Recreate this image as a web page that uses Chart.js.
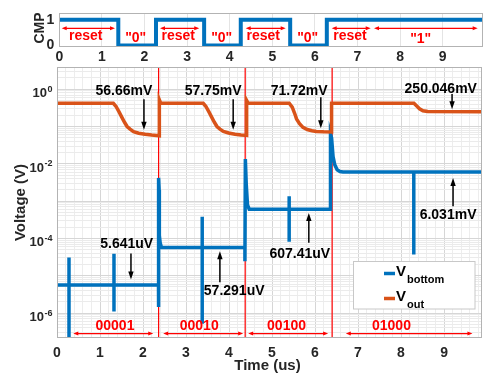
<!DOCTYPE html>
<html>
<head>
<meta charset="utf-8">
<script src="https://cdn.jsdelivr.net/npm/chart.js@4.4.1/dist/chart.umd.min.js"></script>
<style>
  body { margin: 0; background: #fff; }
  #wrap { position: relative; width: 493px; height: 374px; }
  canvas { position: absolute; left: 0; top: 0; }
</style>
</head>
<body>
<div id="wrap">
  <canvas id="bot" width="493" height="374"></canvas>
  <canvas id="top" width="493" height="374"></canvas>
</div>
<script>
// ---- data ----
const cmpT = [0, 1.385, 2.27, 3.40, 4.26, 5.42, 6.28, 9.93];
const cmpV = [1, 0, 1, 0, 1, 0, 1, 1];

const voutT = [0, 1.31, 1.37, 1.44, 1.50, 1.57, 1.63, 1.70, 1.78, 1.90, 2.05, 2.20, 2.38, 2.38, 2.41,
  3.40, 3.46, 3.53, 3.59, 3.66, 3.72, 3.79, 3.87, 3.99, 4.14, 4.28, 4.41, 4.41, 4.44,
  5.40, 5.47, 5.53, 5.57, 5.64, 5.72, 5.82, 5.93, 6.03, 6.20, 6.385, 6.385,
  8.30, 8.36, 8.43, 8.51, 8.62, 9.86];
const voutV = [0.42, 0.42, 0.35, 0.25, 0.185, 0.13, 0.10, 0.085, 0.073, 0.066, 0.062, 0.059, 0.0567, 0.52, 0.43,
  0.42, 0.35, 0.25, 0.185, 0.13, 0.10, 0.085, 0.074, 0.067, 0.062, 0.059, 0.0578, 0.50, 0.43,
  0.42, 0.33, 0.22, 0.16, 0.12, 0.095, 0.083, 0.077, 0.074, 0.072, 0.0717, 0.42,
  0.42, 0.36, 0.30, 0.265, 0.252, 0.250];

const vbotT = [0, 0.279, 0.279, 0.279, 0.279, 1.325, 1.325, 1.325, 1.325, 2.36, 2.36, 2.365, 2.375, 2.38, 2.40, 2.43,
  3.377, 3.377, 3.377, 3.377, 4.37, 4.37, 4.38, 4.40, 4.43, 4.47,
  5.399, 5.399, 5.399, 5.399, 6.35, 6.36, 6.385, 6.42, 6.46, 6.515, 6.58, 6.65,
  8.297, 8.297, 8.297, 9.86];
const vbotV = [5.641e-6, 5.641e-6, 3.1e-5, 1e-7, 5.641e-6, 5.641e-6, 3.9e-5, 1.1e-6, 5.641e-6, 5.641e-6, 1.45e-6, 4.2e-3, 2e-3, 1.2e-4, 7.5e-5, 5.729e-5,
  5.729e-5, 3.8e-4, 5.2e-7, 5.729e-5, 5.729e-5, 2.45e-5, 1.34e-2, 3e-3, 8e-4, 6.074e-4,
  6.074e-4, 1.35e-3, 8.1e-5, 6.074e-4, 6.074e-4, 6.4e-2, 5e-2, 1.57e-2, 9.4e-3, 6.9e-3, 6.2e-3, 6.031e-3,
  6.031e-3, 3.7e-5, 6.031e-3, 6.031e-3];

const redLineT = [2.363, 4.376, 6.398];

const xTickLabels = [0, 1, 2, 3, 4, 5, 6, 7, 8, 9];
const cmpTickLabels = [0, 1];
const yLabelExps = [0, -2, -4, -6];

// annotations: t = time, v = log10(volts)
const voltNotes = [
  { text: '56.66mV', t: 1.557, v: -0.064, at: 2.022, from: -0.267, to: -1.088 },
  { text: '57.75mV', t: 3.632, v: -0.064, at: 4.097, from: -0.267, to: -1.088 },
  { text: '71.72mV', t: 5.631, v: -0.064, at: 6.135, from: -0.214, to: -1.043 },
  { text: '250.046mV', t: 8.924, v: 0.0, at: 9.187, from: -0.126, to: -0.535 },
  { text: '6.031mV', t: 9.094, v: -3.374, at: 9.21, from: -3.139, to: -2.380 },
  { text: '607.41uV', t: 5.647, v: -4.430, at: 5.856, from: -4.118, to: -3.316 },
  { text: '57.291uV', t: 4.120, v: -5.412, at: 3.788, from: -5.171, to: -4.342 },
  { text: '5.641uV', t: 1.62, v: -4.144, at: 1.72, from: -4.404, to: -5.099 }
];
const codeNotes = [
  { text: '00001', t: 1.348, a1: 0.379, a2: 2.238 },
  { text: '00010', t: 3.307, a1: 2.470, a2: 4.330 },
  { text: '00100', t: 5.338, a1: 4.446, a2: 6.305 },
  { text: '01000', t: 7.778, a1: 6.716, a2: 9.661 }
];
const cmpNotes = [
  { text: 'reset', t: 0.62, y: 0.379, a1: 0.056, a2: 1.307 },
  { text: '"0"', t: 1.793, y: 0.295 },
  { text: 'reset', t: 2.793, y: 0.379, a1: 2.364, a2: 3.286 },
  { text: '"0"', t: 3.812, y: 0.295 },
  { text: 'reset', t: 4.789, y: 0.379, a1: 4.376, a2: 5.315 },
  { text: '"0"', t: 5.831, y: 0.295 },
  { text: 'reset', t: 6.824, y: 0.379, a1: 6.394, a2: 7.310 },
  { text: '"1"', t: 8.484, y: 0.242, a1: 7.387, a2: 9.822 }
];

// ---- helpers ----
const FONT = '"Liberation Sans", Arial, sans-serif';
const BLUE = '#0072BD', ORANGE = '#D95319', RED = '#FF0000';
const fnt = (s) => 'bold ' + s + 'px ' + FONT;
const isWhole = (v) => Math.abs(v - Math.round(v)) < 1e-6;

function head(ctx, x, y, dx, dy, len, half) {
  const n = Math.hypot(dx, dy); dx /= n; dy /= n;
  ctx.beginPath();
  ctx.moveTo(x, y);
  ctx.lineTo(x - dx * len - dy * half, y - dy * len + dx * half);
  ctx.lineTo(x - dx * len + dy * half, y - dy * len - dx * half);
  ctx.closePath();
  ctx.fill();
}
function arrow(ctx, x1, y1, x2, y2, len, half, both) {
  const n = Math.hypot(x2 - x1, y2 - y1), ux = (x2 - x1) / n, uy = (y2 - y1) / n;
  const s = both ? len * 0.7 : 0;
  ctx.beginPath();
  ctx.moveTo(x1 + ux * s, y1 + uy * s);
  ctx.lineTo(x2 - ux * len * 0.7, y2 - uy * len * 0.7);
  ctx.stroke();
  head(ctx, x2, y2, ux, uy, len, half);
  if (both) head(ctx, x1, y1, -ux, -uy, len, half);
}
function frame(chart) {
  const a = chart.chartArea, ctx = chart.ctx;
  ctx.save();
  ctx.strokeStyle = '#b3b3b3';
  ctx.lineWidth = 1;
  ctx.strokeRect(Math.round(a.left) + 0.5, Math.round(a.top) + 0.5, Math.round(a.right - a.left), Math.round(a.bottom - a.top));
  ctx.restore();
}

// ---- top panel (CMP) ----
const topPlugin = {
  id: 'topNotes',
  afterDatasetsDraw(chart) {
    const ctx = chart.ctx, x = chart.scales.x, y = chart.scales.y;
    ctx.save();
    ctx.fillStyle = RED; ctx.strokeStyle = RED; ctx.lineWidth = 1.2;
    ctx.font = fnt(14); ctx.textAlign = 'center'; ctx.textBaseline = 'middle';
    cmpNotes.forEach(n => {
      ctx.fillText(n.text, x.getPixelForValue(n.t), y.getPixelForValue(n.y));
      if (n.a1 !== undefined) {
        const ay = y.getPixelForValue(0.668);
        arrow(ctx, x.getPixelForValue(n.a1), ay, x.getPixelForValue(n.a2), ay, 5, 2, true);
      }
    });
    ctx.fillStyle = '#262626';
    ctx.translate(44, 28);
    ctx.rotate(-Math.PI / 2);
    ctx.textBaseline = 'alphabetic';
    ctx.fillText('CMP', 0, 0);
    ctx.restore();
    frame(chart);
  }
};

new Chart(document.getElementById('top'), {
  type: 'line',
  data: {
    datasets: [{
      data: cmpT.map((t, i) => ({ x: t, y: cmpV[i] })),
      borderColor: BLUE, borderWidth: 4, stepped: true, pointRadius: 0, fill: false
    }]
  },
  options: {
    responsive: false, animation: false, devicePixelRatio: 1,
    layout: { padding: { left: 0, right: 10.7, top: 5, bottom: 308 } },
    plugins: { legend: { display: false }, tooltip: { enabled: false } },
    scales: {
      x: {
        type: 'linear', min: 0, max: 9.93, bounds: 'data',
        afterBuildTicks: s => { s.ticks = xTickLabels.map(v => ({ value: v })); },
        afterFit: s => { s.height = 20; },
        grid: { color: '#e4e4e4', drawTicks: false },
        border: { display: false },
        ticks: { font: { family: FONT, size: 14, weight: 'bold' }, color: '#262626', padding: 3, maxRotation: 0, autoSkip: false }
      },
      y: {
        type: 'linear', min: -0.02, max: 1.25, bounds: 'data',
        afterBuildTicks: s => { s.ticks = cmpTickLabels.map(v => ({ value: v })); },
        afterFit: s => { s.width = 59.3; },
        grid: { display: false, drawTicks: false },
        border: { display: false },
        ticks: { font: { family: FONT, size: 14, weight: 'bold' }, color: '#262626', padding: 5 }
      }
    }
  },
  plugins: [topPlugin]
});

// ---- bottom panel (voltages) ----
const botPlugin = {
  id: 'botNotes',
  beforeDatasetsDraw(chart) {
    const ctx = chart.ctx, x = chart.scales.x, a = chart.chartArea;
    ctx.save();
    ctx.strokeStyle = RED; ctx.lineWidth = 1.2;
    redLineT.forEach(t => {
      const px = x.getPixelForValue(t);
      ctx.beginPath(); ctx.moveTo(px, a.top); ctx.lineTo(px, a.bottom); ctx.stroke();
    });
    ctx.restore();
  },
  afterDatasetsDraw(chart) {
    const ctx = chart.ctx, x = chart.scales.x, y = chart.scales.y;
    const py = (lg) => y.getPixelForValue(Math.pow(10, lg));
    ctx.save();
    // black value notes
    ctx.fillStyle = '#000'; ctx.strokeStyle = '#000'; ctx.lineWidth = 1.5;
    ctx.font = fnt(14); ctx.textAlign = 'center'; ctx.textBaseline = 'middle';
    voltNotes.forEach(n => {
      ctx.fillText(n.text, x.getPixelForValue(n.t), py(n.v));
      const ax = x.getPixelForValue(n.at);
      arrow(ctx, ax, py(n.from), ax, py(n.to), 8, 2.7, false);
    });
    // red code notes
    ctx.fillStyle = RED; ctx.strokeStyle = RED; ctx.lineWidth = 1.2;
    codeNotes.forEach(n => {
      ctx.fillText(n.text, x.getPixelForValue(n.t), py(-6.348));
      const ay = py(-6.551);
      arrow(ctx, x.getPixelForValue(n.a1), ay, x.getPixelForValue(n.a2), ay, 5, 2, true);
    });
    // legend
    ctx.fillStyle = '#fff'; ctx.strokeStyle = '#c8c8c8'; ctx.lineWidth = 1;
    ctx.fillRect(353.5, 261.5, 121.5, 47.5);
    ctx.strokeRect(353.5, 261.5, 121.5, 47.5);
    ctx.lineWidth = 3.5;
    [[BLUE, 273.5, 'bottom'], [ORANGE, 298.5, 'out']].forEach(([c, ly, sub]) => {
      ctx.strokeStyle = c;
      ctx.beginPath(); ctx.moveTo(384, ly); ctx.lineTo(395, ly); ctx.stroke();
      ctx.fillStyle = '#000'; ctx.textAlign = 'left'; ctx.textBaseline = 'alphabetic';
      ctx.font = fnt(15); ctx.fillText('V', 396, ly + 2.5);
      ctx.font = fnt(11); ctx.fillText(sub, 407, ly + 9.5);
    });
    // y tick labels 10^n
    ctx.fillStyle = '#262626'; ctx.textAlign = 'right'; ctx.textBaseline = 'alphabetic';
    yLabelExps.forEach(e => {
      const gy = y.getPixelForValue(Math.pow(10, e));
      const ex = String(e);
      ctx.font = fnt(9);
      const w = ctx.measureText(ex).width;
      ctx.fillText(ex, 52.5, gy + 2.5);
      ctx.font = fnt(13);
      ctx.fillText('10', 52.5 - w - 0.5, gy + 8);
    });
    // axis titles
    ctx.textAlign = 'center';
    ctx.font = fnt(15);
    ctx.fillText('Time (us)', 267.5, 370);
    ctx.translate(24.5, 202.5);
    ctx.rotate(-Math.PI / 2);
    ctx.fillText('Voltage (V)', 0, 0);
    ctx.restore();
    frame(chart);
  }
};

const logGrid = (v) => isWhole(Math.log10(v)) ? '#d6d6d6' : '#ebebeb';

new Chart(document.getElementById('bot'), {
  type: 'line',
  data: {
    datasets: [
      {
        label: 'Vout', order: 0,
        data: voutT.map((t, i) => ({ x: t, y: voutV[i] })),
        borderColor: ORANGE, borderWidth: 3.5, pointRadius: 0, fill: false, tension: 0
      },
      {
        label: 'Vbottom', order: 1,
        data: vbotT.map((t, i) => ({ x: t, y: vbotV[i] })),
        borderColor: BLUE, borderWidth: 3.5, pointRadius: 0, fill: false, tension: 0
      }
    ]
  },
  options: {
    responsive: false, animation: false, devicePixelRatio: 1,
    layout: { padding: { left: 0, right: 12, top: 67.3, bottom: 0 } },
    plugins: { legend: { display: false }, tooltip: { enabled: false } },
    scales: {
      x: {
        type: 'linear', min: 0, max: 9.86, bounds: 'data',
        afterBuildTicks: s => {
          const t = [];
          for (let k = 0; k * 0.2 <= s.max + 1e-9; k++) t.push({ value: Math.round(k * 2) / 10 });
          s.ticks = t;
        },
        afterFit: s => { s.height = 36.7; },
        grid: { color: c => isWhole(c.tick.value) ? '#d6d6d6' : '#ededed', drawTicks: false },
        border: { display: false },
        ticks: {
          font: { family: FONT, size: 14, weight: 'bold' }, color: '#262626', padding: 7,
          maxRotation: 0, autoSkip: false,
          callback: v => (isWhole(v) && xTickLabels.includes(Math.round(v))) ? String(Math.round(v)) : ''
        }
      },
      y: {
        type: 'logarithmic', min: 2.24e-7, max: 3.87,
        afterBuildTicks: s => {
          const t = [];
          for (let e = -7; e <= 0; e++) for (let m = 1; m <= 9; m++) {
            const v = m * Math.pow(10, e);
            if (v >= s.min && v <= s.max) t.push({ value: v });
          }
          s.ticks = t;
        },
        afterFit: s => { s.width = 57; },
        grid: { color: c => logGrid(c.tick.value), drawTicks: false },
        border: { display: false },
        ticks: { display: false }
      }
    }
  },
  plugins: [botPlugin]
});
</script>
</body>
</html>
